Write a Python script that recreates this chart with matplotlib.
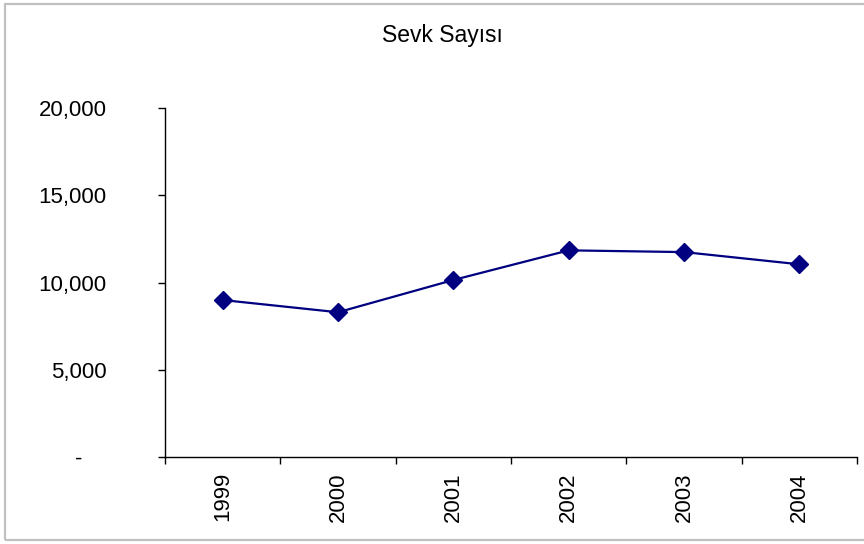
import matplotlib
matplotlib.use("Agg")
import matplotlib.pyplot as plt
from matplotlib.patches import Rectangle
from matplotlib.ticker import FixedLocator, FuncFormatter

plt.rcParams["font.family"] = ["Liberation Sans", "DejaVu Sans"]

# ── Data ─────────────────────────────────────────────────────────────────────
years = ["1999", "2000", "2001", "2002", "2003", "2004"]
sevk_sayisi = [9000, 8300, 10150, 11850, 11750, 11050]
y_ticks = [0, 5000, 10000, 15000, 20000]

TITLE = "Sevk Sayısı"
NAVY = "#000080"

fig = plt.figure(figsize=(8.64, 5.44), dpi=100)
fig.patch.set_facecolor("white")
ax = fig.add_axes([0.191, 0.160, 0.801, 0.641])

x = list(range(1, len(years) + 1))
ax.plot(x, sevk_sayisi, color=NAVY, lw=1.6, marker="D", markersize=9.5,
        markerfacecolor=NAVY, markeredgecolor=NAVY, zorder=3)

ax.set_xlim(0.5, len(years) + 0.5)
ax.set_ylim(0, 20000)

# y axis: Excel accounting style, zero shown as a dash
ax.yaxis.set_major_locator(FixedLocator(y_ticks))
ax.yaxis.set_major_formatter(FuncFormatter(
    lambda v, p: "-    " if v == 0 else f"{int(v):,}"))
ax.tick_params(axis="y", direction="out", length=5, width=1, pad=37,
               labelsize=16, colors="black")

# x axis: tick marks between categories, labels centred on them
ax.xaxis.set_major_locator(FixedLocator([i + 0.5 for i in range(len(years) + 1)]))
ax.xaxis.set_major_formatter(FuncFormatter(lambda v, p: ""))
ax.xaxis.set_minor_locator(FixedLocator(x))
ax.set_xticks(x, years, minor=True, rotation=90)
ax.tick_params(axis="x", which="major", direction="out", length=5, width=1)
ax.tick_params(axis="x", which="minor", length=0, pad=11, labelsize=16)

for side in ("top", "right"):
    ax.spines[side].set_visible(False)
for side in ("left", "bottom"):
    ax.spines[side].set_color("black")
    ax.spines[side].set_linewidth(1)

fig.text(0.512, 0.934, TITLE, ha="center", va="center", fontsize=16.5)

# chart-area border (cut off on the right like the source)
fig.patches.append(Rectangle((5 / 864, 4 / 544), 1.0, 536 / 544,
                             transform=fig.transFigure, fill=False,
                             edgecolor="#c0c0c0", lw=1.6))

fig.savefig("out.png", dpi=100)
